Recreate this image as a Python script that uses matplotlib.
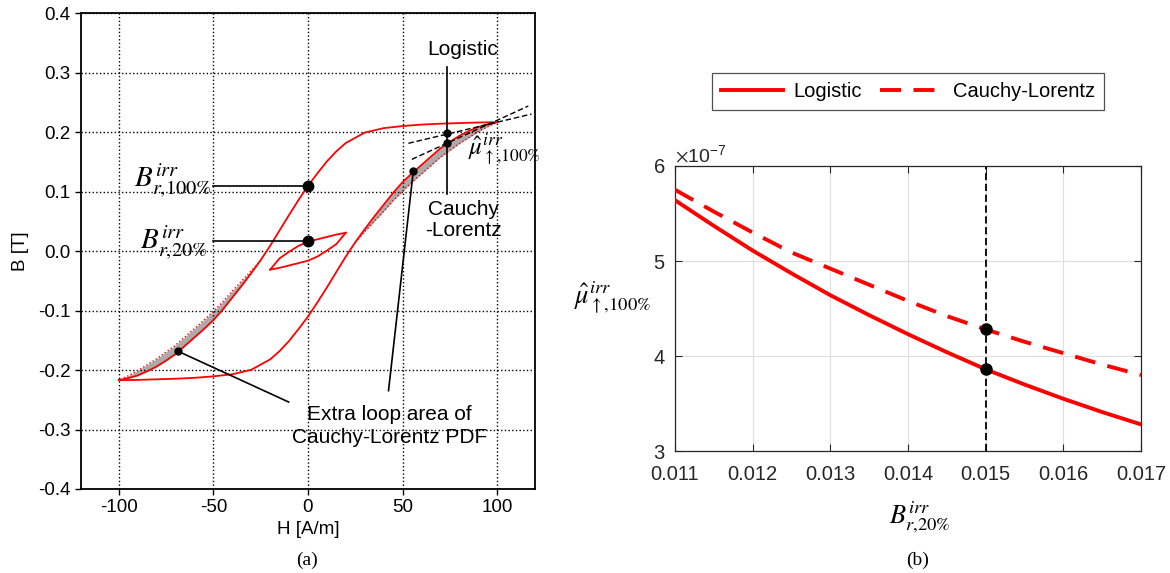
import matplotlib

matplotlib.use("Agg")

import matplotlib.pyplot as plt
from matplotlib.ticker import FixedLocator, FormatStrFormatter, ScalarFormatter


# (a) major loop, Logistic PDF
h_desc = [100, 90, 80, 70, 60, 50, 40, 30, 20, 15, 10, 5, 0, -5, -10, -15, -20, -25, -30,
          -35, -40, -45, -50, -55, -60, -65, -70, -75, -80, -85, -90, -95, -100]
b_desc = [0.217, 0.2165, 0.2155, 0.2145, 0.213, 0.2105, 0.207, 0.1995, 0.182, 0.168, 0.151,
          0.131, 0.110, 0.086, 0.061, 0.035, 0.009, -0.015, -0.037, -0.058, -0.078, -0.098,
          -0.116, -0.131, -0.145, -0.159, -0.173, -0.184, -0.194, -0.202, -0.209, -0.2135, -0.217]
h_asc = [-100, -90, -80, -70, -60, -50, -40, -30, -20, -15, -10, -5, 0, 5, 10, 15, 20, 25, 30,
         35, 40, 45, 50, 55, 60, 65, 70, 75, 80, 85, 90, 95, 100]
b_asc = [-0.217, -0.2165, -0.2155, -0.2145, -0.213, -0.2105, -0.207, -0.1995, -0.182, -0.168,
         -0.151, -0.131, -0.110, -0.086, -0.061, -0.035, -0.009, 0.015, 0.037, 0.058, 0.078,
         0.098, 0.116, 0.131, 0.145, 0.159, 0.173, 0.184, 0.194, 0.202, 0.209, 0.2135, 0.217]

# Cauchy-Lorentz branches where they leave the Logistic loop
h_cl_up = [25, 30, 35, 40, 45, 50, 55, 60, 65, 70, 75, 80, 85, 90, 95, 100]
b_cl_up = [0.015, 0.033, 0.050, 0.067, 0.085, 0.101, 0.116, 0.130, 0.144, 0.158, 0.1695, 0.181,
           0.191, 0.201, 0.2095, 0.217]
h_cl_dn = [-25, -30, -35, -40, -45, -50, -55, -60, -65, -70, -75, -80, -85, -90, -95, -100]
b_cl_dn = [-0.015, -0.033, -0.050, -0.067, -0.085, -0.101, -0.116, -0.130, -0.144, -0.158,
           -0.1695, -0.181, -0.191, -0.201, -0.2095, -0.217]

# 20% minor loop
h_minor_up = [20, 15, 10, 5, 0, -5, -10, -15, -20]
b_minor_up = [0.031, 0.028, 0.024, 0.020, 0.016, 0.009, -0.001, -0.012, -0.031]
h_minor_lo = [-20, -15, -10, -5, 0, 5, 10, 15, 20]
b_minor_lo = [-0.031, -0.028, -0.024, -0.020, -0.016, -0.009, 0.001, 0.012, 0.031]

br_100 = 0.1096
br_20 = 0.0168
h_tip = 73.4
b_tip_logistic = 0.1993
b_tip_cauchy = 0.1815
tangent_logistic_h = [53.1, 118.2]
tangent_logistic_b = [0.1815, 0.2307]
tangent_cauchy_h = [54.9, 116.5]
tangent_cauchy_b = [0.1545, 0.2442]
area_pts_h = [55.7, -68.9]
area_pts_b = [0.135, -0.168]

# (b) sensitivity of mu_hat to Br,20%
br20 = [0.011, 0.0115, 0.012, 0.0125, 0.013, 0.0135, 0.014, 0.0145, 0.015, 0.0155, 0.016,
        0.0165, 0.017]
mu_logistic = [5.64e-7, 5.37e-7, 5.11e-7, 4.87e-7, 4.64e-7, 4.43e-7, 4.23e-7, 4.04e-7,
               3.86e-7, 3.70e-7, 3.55e-7, 3.41e-7, 3.28e-7]
mu_cauchy = [5.75e-7, 5.52e-7, 5.30e-7, 5.09e-7, 4.92e-7, 4.75e-7, 4.58e-7, 4.42e-7,
             4.28e-7, 4.15e-7, 4.03e-7, 3.91e-7, 3.80e-7]
br20_selected = 0.015

RED = "#ff0000"
SANS = "Liberation Sans"
SERIF = "Liberation Serif"


def draw_loop(ax):
    i_up = h_asc.index(25)
    i_dn = h_desc.index(-25)
    ax.fill_between(h_asc[i_up:], b_asc[i_up:], b_cl_up, color="#ababab", lw=0)
    ax.fill_between(h_desc[i_dn:], b_desc[i_dn:], b_cl_dn, color="#ababab", lw=0)
    ax.plot(h_cl_up, b_cl_up, color=RED, lw=1.0, ls=":")
    ax.plot(h_cl_dn, b_cl_dn, color=RED, lw=1.0, ls=":")
    ax.plot(h_desc, b_desc, color=RED, lw=1.3)
    ax.plot(h_asc, b_asc, color=RED, lw=1.3)
    ax.plot(h_minor_up, b_minor_up, color=RED, lw=1.3)
    ax.plot(h_minor_lo, b_minor_lo, color=RED, lw=1.3)

    ax.plot(tangent_logistic_h, tangent_logistic_b, color="k", lw=1.0, ls=(0, (4, 2)))
    ax.plot(tangent_cauchy_h, tangent_cauchy_b, color="k", lw=1.0, ls=(0, (4, 2)))

    # annotation leaders
    ax.plot([-50, 0], [br_100, br_100], color="k", lw=1.2)
    ax.plot([-50, 0], [br_20, br_20], color="k", lw=1.2)
    ax.plot([h_tip, h_tip], [0.310, 0.097], color="k", lw=1.2)
    ax.plot([area_pts_h[0], 42.6], [area_pts_b[0], -0.2346], color="k", lw=1.2)
    ax.plot([area_pts_h[1], -10.2], [area_pts_b[1], -0.2537], color="k", lw=1.2)

    ax.plot([0, 0], [br_100, br_20], "o", color="k", ms=7.5, ls="none")
    ax.plot([h_tip, h_tip], [b_tip_logistic, b_tip_cauchy], "o", color="k", ms=5, ls="none")
    ax.plot(area_pts_h, area_pts_b, "o", color="k", ms=5, ls="none")

    ax.text(-51, 0.1175, r"$B^{irr}_{r{,}100\%}$", fontsize=21, ha="right", va="center")
    ax.text(-53, 0.014, r"$B^{irr}_{r{,}20\%}$", fontsize=21, ha="right", va="center")
    ax.text(84.8, 0.170, r"$\hat{\mu}^{irr}_{\uparrow{,}100\%}$", fontsize=18, ha="left", va="center")
    ax.text(82, 0.339, "Logistic", fontsize=15, family=SANS, ha="center", va="center")
    ax.text(82, 0.0525, "Cauchy\n-Lorentz", fontsize=15, family=SANS, ha="center", va="center",
            linespacing=1.15)
    ax.text(43, -0.294, "Extra loop area of\nCauchy-Lorentz PDF", fontsize=15, family=SANS,
            ha="center", va="center", linespacing=1.25)

    ax.set_xlim(-120, 120)
    ax.set_ylim(-0.4, 0.4)
    ax.xaxis.set_major_locator(FixedLocator([-100, -50, 0, 50, 100]))
    ax.yaxis.set_major_locator(FixedLocator([-0.4, -0.3, -0.2, -0.1, 0.0, 0.1, 0.2, 0.3, 0.4]))
    ax.yaxis.set_major_formatter(FormatStrFormatter("%.1f"))
    ax.grid(True, color="k", ls=":", lw=1.0)
    ax.tick_params(direction="out", length=4, width=1.0, labelsize=13.5)
    for lab in ax.get_xticklabels() + ax.get_yticklabels():
        lab.set_family(SANS)
    for sp in ax.spines.values():
        sp.set_linewidth(1.3)
    ax.set_xlabel("H [A/m]", fontsize=13.5, family=SANS)
    ax.set_ylabel("B [T]", fontsize=13.5, family=SANS)
    ax.xaxis.set_label_coords(0.5, -0.086)
    ax.xaxis.label.set_va("center")
    ax.yaxis.set_label_coords(-0.134, 0.5)
    ax.yaxis.label.set_va("center")


def draw_sensitivity(ax):
    dark = "#262626"
    i_sel = br20.index(br20_selected)
    ax.axvline(br20_selected, color="k", lw=1.3, ls=(0, (4, 2)), zorder=2)
    ax.plot(br20, mu_logistic, color=RED, lw=2.8, label="Logistic", zorder=3)
    ax.plot(br20, mu_cauchy, color=RED, lw=2.8, dashes=(5.4, 3.2), label="Cauchy-Lorentz", zorder=3)
    ax.plot([br20_selected, br20_selected], [mu_logistic[i_sel], mu_cauchy[i_sel]], "o",
            color="k", ms=8, ls="none", zorder=4)

    ax.set_xlim(0.011, 0.017)
    ax.set_ylim(3e-7, 6e-7)
    ax.xaxis.set_major_locator(FixedLocator(br20[::2]))
    ax.xaxis.set_major_formatter(FormatStrFormatter("%.3f"))
    ax.yaxis.set_major_locator(FixedLocator([3e-7, 4e-7, 5e-7, 6e-7]))
    fmt = ScalarFormatter(useMathText=True)
    fmt.set_powerlimits((0, 0))
    ax.yaxis.set_major_formatter(fmt)
    ax.yaxis.get_offset_text().set_fontsize(14)
    ax.yaxis.get_offset_text().set_family(SANS)
    ax.yaxis.get_offset_text().set_color(dark)
    ax.grid(True, color="#dedede", lw=0.8)
    ax.set_axisbelow(True)
    ax.tick_params(direction="in", length=5, width=0.8, colors=dark, labelsize=14.5,
                   top=True, right=True)
    ax.tick_params(axis="x", pad=10)
    ax.tick_params(axis="y", pad=7)
    for lab in ax.get_xticklabels() + ax.get_yticklabels():
        lab.set_family(SANS)
    for sp in ax.spines.values():
        sp.set_color(dark)
        sp.set_linewidth(0.9)

    ax.set_xlabel(r"$B^{irr}_{r{,}20\%}$", fontsize=19)
    ax.xaxis.set_label_coords(0.524, -0.232)
    ax.xaxis.label.set_va("center")
    ax.set_ylabel(r"$\hat{\mu}^{irr}_{\uparrow{,}100\%}$", fontsize=19, rotation=0)
    ax.yaxis.set_label_coords(-0.135, 0.54)
    ax.yaxis.label.set_va("center")
    ax.yaxis.label.set_ha("center")

    leg = ax.legend(loc="center", bbox_to_anchor=(0.776, 0.841), bbox_transform=ax.figure.transFigure,
                    ncol=2, prop={"family": SANS, "size": 14.5}, frameon=True,
                    fancybox=False, handlelength=3.1, handletextpad=0.5, columnspacing=0.9,
                    borderpad=0.45)
    leg.get_frame().set_edgecolor(dark)
    leg.get_frame().set_linewidth(0.9)


def main() -> None:
    plt.rcParams["mathtext.fontset"] = "stix"
    plt.rcParams["axes.unicode_minus"] = False
    plt.rcParams["font.family"] = [SANS, "DejaVu Sans"]

    fig = plt.figure(figsize=(11.7, 5.73), dpi=100)
    ax1 = fig.add_axes([0.0692, 0.1466, 0.388, 0.830])
    ax2 = fig.add_axes([0.5769, 0.2129, 0.3983, 0.4974])
    draw_loop(ax1)
    draw_sensitivity(ax2)

    fig.text(307 / 1170, 1 - 560 / 573, "(a)", fontsize=14, family=SERIF, ha="center", va="center")
    fig.text(918 / 1170, 1 - 560 / 573, "(b)", fontsize=14, family=SERIF, ha="center", va="center")
    fig.savefig("out.png", dpi=100)
    plt.close(fig)


if __name__ == "__main__":
    main()
